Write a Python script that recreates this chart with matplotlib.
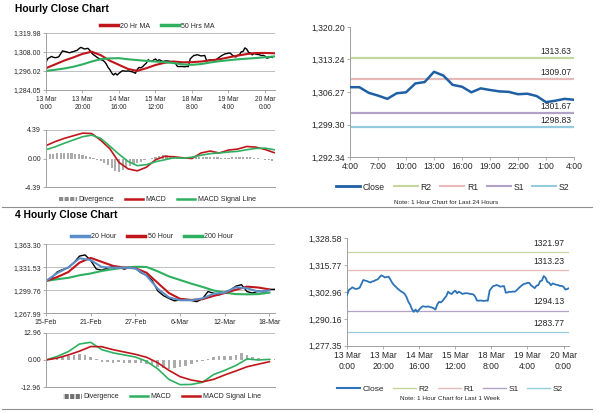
import numpy as np
import matplotlib
matplotlib.use('Agg')
import matplotlib.pyplot as plt
from matplotlib.lines import Line2D
from matplotlib.patches import Patch

plt.rcParams['font.family'] = ['Liberation Sans', 'DejaVu Sans']

# ---------------- data ----------------
# hourly close, 13 Mar 0:00 -> 20 Mar 4:00 (one value per hour)
hourly_close = [
    1301.5, 1303.9, 1304.5, 1305.2, 1304.7, 1304.4, 1304.6, 1305.0, 1306.8, 1308.7,
    1308.4, 1308.2, 1307.8, 1307.5, 1308.0, 1308.2, 1308.7, 1309.0, 1310.0, 1310.9,
    1310.5, 1309.9, 1310.1, 1310.3, 1309.0, 1307.4, 1306.3, 1305.5, 1304.6, 1303.9,
    1303.2, 1302.8, 1302.0, 1300.5, 1298.3, 1296.9, 1294.8, 1293.5, 1294.6, 1293.5,
    1294.6, 1295.5, 1296.2, 1296.0, 1295.9, 1296.1, 1295.8, 1295.6, 1295.2, 1294.6,
    1297.0, 1298.3, 1298.0, 1298.8, 1300.0, 1301.0, 1303.1, 1302.4, 1302.0, 1303.0,
    1303.6, 1302.4, 1303.1, 1302.6, 1302.0, 1302.3, 1302.4, 1302.3, 1302.1, 1302.0,
    1301.8, 1300.8, 1298.9, 1298.8, 1298.9, 1298.8, 1298.7, 1298.9, 1298.8, 1303.6,
    1304.8, 1305.8, 1306.0, 1306.3, 1305.9, 1305.5, 1305.7, 1305.8, 1302.6, 1302.8,
    1303.1, 1303.0, 1303.2, 1303.1, 1303.8, 1304.7, 1305.5, 1306.2, 1306.8, 1307.0,
    1307.3, 1307.3, 1306.1, 1305.5, 1304.8, 1306.0, 1306.2, 1308.1, 1308.4, 1310.6,
    1309.8, 1307.8, 1307.4, 1306.2, 1307.05, 1306.7, 1306.4, 1306.3, 1305.8, 1305.9,
    1305.4, 1304.1, 1304.4, 1304.8, 1304.6]
hourly_labels = ['13 Mar\n0:00', '13 Mar\n20:00', '14 Mar\n16:00', '15 Mar\n12:00',
                 '18 Mar\n8:00', '19 Mar\n4:00', '20 Mar\n0:00']
hourly_label_step = 20

# moving averages (every 5 hours)
ma_step = 5
ma20_hr = [1297.8, 1300.2, 1302.6, 1304.6, 1306.8, 1308.2, 1306.0, 1302.5, 1299.9, 1297.3,
           1296.1, 1297.8, 1299.8, 1301.2, 1302.0, 1301.5, 1301.6, 1302.0, 1302.7, 1303.4,
           1304.6, 1305.7, 1306.7, 1307.4, 1307.4, 1307.2]
ma50_hr = [1296.1, 1296.8, 1297.6, 1298.7, 1300.2, 1302.0, 1303.5, 1304.0, 1304.1, 1303.4,
           1302.9, 1302.4, 1302.0, 1301.6, 1301.0, 1300.2, 1299.9, 1300.4, 1301.4, 1302.2,
           1302.8, 1303.4, 1303.8, 1304.2, 1304.7, 1305.2]
# hourly MACD (every 5 hours) and divergence (every 2 hours)
macd_hr = [1.98, 2.6, 3.1, 3.5, 3.9, 3.85, 2.8, 1.5, -0.6, -1.6, -1.9, -1.35, -0.2, 0.33,
           0.27, 0.1, 0.0, 0.85, 1.15, 0.85, 1.3, 1.45, 1.85, 1.75, 1.4, 0.9]
signal_hr = [1.35, 1.8, 2.35, 2.85, 3.35, 3.6, 3.1, 1.9, 0.65, -0.45, -1.1, -0.95, -0.5,
             -0.2, 0.1, 0.05, 0.2, 0.5, 0.75, 0.85, 1.0, 1.1, 1.35, 1.55, 1.6, 1.35]
div_step_hr = 2
div_hr = [0.7, 0.72, 0.75, 0.78, 0.8, 0.8, 0.8, 0.78, 0.75, 0.7, 0.6, 0.45, 0.3, 0.05, -0.2,
          -0.45, -0.7, -1.05, -1.45, -1.85, -2.1, -1.8, -1.5, -1.1, -0.8, -0.65, -0.55, -0.3,
          -0.1, 0.15, 0.3, 0.45, 0.5, 0.5, 0.45, 0.38, 0.25, 0.15, -0.05, -0.1, 0.05, 0.2,
          0.3, 0.3, 0.3, 0.3, 0.28, 0.2, 0.12, 0.1, 0.15, 0.2, 0.25, 0.25, 0.22, 0.2, 0.2,
          0.15, 0.05, 0.0, -0.2, -0.3, -0.35]

# last 24 hours
day_labels = ['4:00', '7:00', '10:00', '13:00', '16:00', '19:00', '22:00', '1:00', '4:00']
day_close = hourly_close[-25:]
day_levels = {'R2': 1313.63, 'R1': 1309.07, 'S1': 1301.67, 'S2': 1298.83}
week_levels = {'R2': 1321.97, 'R1': 1313.23, 'S1': 1294.13, 'S2': 1283.77}

# 4-hourly chart (bars of 4 hours)
fh_labels = ['15-Feb', '21-Feb', '27-Feb', '6-Mar', '12-Mar', '18-Mar']
fh_label_step = 24
fh_close_step = 3
fh_close = [1312.7, 1317.0, 1325.0, 1328.5, 1331.0, 1338.0, 1347.0, 1348.6, 1341.0, 1329.2,
            1327.5, 1330.5, 1332.5, 1331.5, 1329.0, 1331.1, 1330.2, 1324.0, 1320.5, 1313.5,
            1299.0, 1292.5, 1288.5, 1285.2, 1286.4, 1287.0, 1285.8, 1284.1, 1288.0, 1298.0,
            1295.8, 1293.5, 1297.0, 1300.2, 1305.5, 1307.5, 1297.9, 1296.0, 1298.5, 1297.5,
            1301.0, 1301.1]
fh_ma_step = 6
fh_ma20 = [1312.7, 1323.5, 1331.5, 1344.0, 1341.5, 1331.8, 1331.0, 1331.0, 1330.0, 1320.0,
           1302.0, 1290.0, 1286.0, 1286.0, 1288.5, 1295.0, 1296.5, 1304.0, 1302.5, 1298.0,
           1299.5]
fh_ma50 = [1312.7, 1318.0, 1325.0, 1338.0, 1344.5, 1339.0, 1333.5, 1331.2, 1330.3, 1324.0,
           1310.0, 1296.0, 1288.0, 1286.4, 1287.5, 1292.0, 1296.0, 1300.5, 1304.8, 1303.6,
           1301.0]
fh_ma200 = [1312.7, 1315.0, 1317.0, 1320.5, 1323.0, 1326.5, 1329.0, 1331.0, 1332.3, 1332.0,
            1326.0, 1319.0, 1314.0, 1309.0, 1304.5, 1299.5, 1296.5, 1294.5, 1294.2, 1294.5,
            1296.5]
fh_macd = [0.0, 1.7, 4.0, 7.6, 8.4, 4.9, 3.4, 2.4, 1.4, -0.6, -4.2, -9.2, -11.7, -11.6,
           -10.6, -6.9, -4.9, -2.6, 0.5, 0.0, 0.3]
fh_signal = [0.0, 0.9, 2.4, 4.2, 6.4, 6.3, 4.9, 3.8, 2.7, 1.3, -1.3, -4.9, -7.9, -9.5,
             -10.4, -9.2, -7.1, -5.2, -3.2, -2.0, -0.8]
fh_div = [0.2, 0.5, 0.8, 1.2, 1.7, 2.2, 2.8, 2.5, 1.5, 0.3, -0.8, -1.1, -1.2, -1.1, -1.2,
          -1.3, -1.4, -1.6, -2.0, -2.6, -3.2, -3.8, -4.1, -3.9, -3.5, -2.8, -2.0, -1.0,
          -0.3, 0.6, 1.5, 2.0, 2.1, 2.1, 2.3, 3.2, 2.5, 1.5, 0.8, 0.5, 0.4, 0.5]

# axis ticks
hr_yticks = [1284.05, 1296.02, 1308.00, 1319.98]
hr_macd_ticks = [-4.39, 0.00, 4.39]
day_yticks = [1292.34, 1299.30, 1306.27, 1313.24, 1320.20]
week_yticks = [1277.35, 1290.16, 1302.96, 1315.77, 1328.58]
fh_yticks = [1267.99, 1299.76, 1331.53, 1363.30]
fh_macd_ticks = [-12.96, 0.00, 12.96]

# ---------------- colours ----------------
RED = '#c0151b'
GREEN = '#2eb060'
BLUE = '#5b8ec6'
GREY = '#ababab'
AX = '#a0a0a0'
TXT = '#262626'
LEVEL_COL = {'R2': '#c3d69b', 'R1': '#e6b9b8', 'S1': '#b3a2c7', 'S2': '#93cddd'}
CLOSE_COL = '#1f5fa3'

W, H = 600, 413
fig = plt.figure(figsize=(6, 4.13), dpi=100)
fig.patch.set_facecolor('white')


def box(l, t, r, b):
    return [l / W, 1 - b / H, (r - l) / W, (b - t) / H]


def fy(y):
    return 1 - y / H


def style(ax, size=5):
    for s in ['top', 'right']:
        ax.spines[s].set_visible(False)
    for s in ['left', 'bottom']:
        ax.spines[s].set_color(AX)
        ax.spines[s].set_linewidth(0.7)
    ax.tick_params(colors=AX, labelcolor=TXT, length=2, width=0.6, labelsize=size, pad=1.5)


def fmt(v):
    return f"{v:,.2f}"


def legend(handles, labels, cx, cy, size=5, hl=2.6, cs=1.6):
    fig.legend(handles, labels, loc='center', bbox_to_anchor=(cx / W, fy(cy)), ncol=len(labels),
               frameon=False, fontsize=size, handlelength=hl, columnspacing=cs,
               handletextpad=0.3, labelcolor=TXT, borderaxespad=0)


# ---------------- titles & separators ----------------
fig.text(15 / W, fy(9), 'Hourly Close Chart', fontsize=7.4, fontweight='bold', va='center')
fig.text(15 / W, fy(215), '4 Hourly Close Chart', fontsize=7.4, fontweight='bold', va='center')
for yy in (207, 409):
    fig.add_artist(Line2D([2 / W, 592 / W], [fy(yy), fy(yy)], color='#909090', lw=0.8))

# ---------------- hourly price ----------------
ax = fig.add_axes(box(46, 33, 275, 90))
style(ax)
xh = np.arange(len(hourly_close))
ax.plot(xh, hourly_close, color='black', lw=1.0)
xm = np.arange(len(ma20_hr)) * ma_step
ax.plot(xm, ma20_hr, color=RED, lw=1.5)
ax.plot(xm, ma50_hr, color=GREEN, lw=1.5)
ax.set_ylim(hr_yticks[0], hr_yticks[-1])
ax.set_yticks(hr_yticks, [fmt(v) for v in hr_yticks])
for v in hr_yticks[1:]:
    ax.axhline(v, color='#b4b4b4', lw=0.6, zorder=0)
ax.set_xlim(0, 125.5)
ax.set_xticks(np.arange(len(hourly_labels)) * hourly_label_step, hourly_labels)
ax.tick_params(axis='x', pad=2, labelsize=4.8)
legend([Line2D([], [], color=RED, lw=2.5), Line2D([], [], color=GREEN, lw=2.5)],
       ['20 Hr MA', '50 Hrs MA'], 157, 26)

# ---------------- hourly MACD ----------------
ax = fig.add_axes(box(46, 130, 275, 187))
style(ax)
xd = np.arange(len(div_hr)) * div_step_hr
ax.bar(xd, div_hr, width=1.2, color=GREY, lw=0)
ax.plot(xm, macd_hr, color=RED, lw=1.2)
ax.plot(xm, signal_hr, color=GREEN, lw=1.2)
ax.set_ylim(hr_macd_ticks[0], hr_macd_ticks[-1])
ax.set_yticks(hr_macd_ticks, [f"{v:.2f}" for v in hr_macd_ticks])
ax.axhline(hr_macd_ticks[-1], color='#b4b4b4', lw=0.6)
ax.set_xlim(0, 125.5)
ax.set_xticks([])
legend([Patch(facecolor='#8c8c8c', edgecolor='white', hatch='|||', lw=0),
        Line2D([], [], color=RED, lw=1.8), Line2D([], [], color=GREEN, lw=1.8)],
       ['Divergence', 'MACD', 'MACD Signal Line'], 157, 200)

# ---------------- last 24 hours ----------------
ax = fig.add_axes(box(350, 27, 574, 157))
style(ax, size=6.2)
xday = np.arange(len(day_close))
ax.plot(xday, day_close, color=CLOSE_COL, lw=1.8, zorder=3)
for k, v in day_levels.items():
    ax.axhline(v, color=LEVEL_COL[k], lw=1.6, zorder=2)
    ax.annotate(f"{v:.2f}", xy=(1, v), xycoords=('axes fraction', 'data'), xytext=(-2, 1.5),
                textcoords='offset points', ha='right', va='bottom', fontsize=6.2, color=TXT)
ax.set_ylim(day_yticks[0], day_yticks[-1])
ax.set_yticks(day_yticks, [fmt(v) for v in day_yticks])
ax.set_xlim(0, len(day_close) - 1)
ax.set_xticks(np.arange(len(day_labels)) * 3, day_labels)
leg_h = [Line2D([], [], color=CLOSE_COL, lw=2)] + [Line2D([], [], color=LEVEL_COL[k], lw=1.5)
                                                   for k in day_levels]
legend(leg_h, ['Close'] + list(day_levels), 453, 187, size=6.2, hl=2.8, cs=1.0)
fig.text(446 / W, fy(202), 'Note: 1 Hour Chart for Last 24 Hours', fontsize=4.6,
         ha='center', va='center', color=TXT)

# ---------------- 4 hourly price ----------------
ax = fig.add_axes(box(46, 244.3, 275, 313.3))
style(ax)
xc = np.arange(len(fh_close)) * fh_close_step
ax.plot(xc, fh_close, color='black', lw=1.0)
xf = np.arange(len(fh_ma20)) * fh_ma_step
ax.plot(xf, fh_ma200, color=GREEN, lw=1.5)
ax.plot(xf, fh_ma50, color=RED, lw=1.5)
ax.plot(xf, fh_ma20, color=BLUE, lw=1.5)
ax.set_ylim(fh_yticks[0], fh_yticks[-1])
ax.set_yticks(fh_yticks, [fmt(v) for v in fh_yticks])
for v in fh_yticks[1:]:
    ax.axhline(v, color='#b4b4b4', lw=0.6, zorder=0)
ax.set_xlim(0, 123)
ax.set_xticks(np.arange(len(fh_labels)) * fh_label_step, fh_labels)
ax.tick_params(axis='x', pad=2, labelsize=5)
legend([Line2D([], [], color=BLUE, lw=2.5), Line2D([], [], color=RED, lw=2.5),
        Line2D([], [], color=GREEN, lw=2.5)], ['20 Hour', '50 Hour', '200 Hour'], 152, 237)

# ---------------- 4 hourly MACD ----------------
ax = fig.add_axes(box(46, 332.7, 275, 387.3))
style(ax)
xdf = np.arange(len(fh_div)) * fh_close_step
ax.bar(xdf, fh_div, width=1.4, color=GREY, lw=0)
ax.plot(xf, fh_macd, color=GREEN, lw=1.2)
ax.plot(xf, fh_signal, color=RED, lw=1.2)
ax.set_ylim(fh_macd_ticks[0], fh_macd_ticks[-1])
ax.set_yticks(fh_macd_ticks, [f"{v:.2f}" for v in fh_macd_ticks])
ax.axhline(fh_macd_ticks[-1], color='#b4b4b4', lw=0.6)
ax.set_xlim(0, 123)
ax.set_xticks([])
legend([Patch(facecolor='#707070', edgecolor='white', hatch='|||', lw=0),
        Line2D([], [], color=GREEN, lw=1.8), Line2D([], [], color=RED, lw=1.8)],
       ['Divergence', 'MACD', 'MACD Signal Line'], 162, 397)

# ---------------- last week ----------------
ax = fig.add_axes(box(347, 238.3, 569, 345.7))
style(ax, size=6.2)
ax.plot(xh, hourly_close, color='#2e73b8', lw=1.3, zorder=3)
for k, v in week_levels.items():
    ax.axhline(v, color=LEVEL_COL[k], lw=0.9, zorder=2)
    ax.annotate(f"{v:.2f}", xy=(1, v), xycoords=('axes fraction', 'data'), xytext=(-3, 3),
                textcoords='offset points', ha='right', va='bottom', fontsize=6.2, color=TXT)
ax.set_ylim(week_yticks[0], week_yticks[-1])
ax.set_yticks(week_yticks, [fmt(v) for v in week_yticks])
ax.set_xlim(0, 123)
ax.set_xticks(np.arange(len(hourly_labels)) * hourly_label_step, hourly_labels)
ax.tick_params(axis='x', labelsize=6.2, pad=2)
leg_h = [Line2D([], [], color='#2e73b8', lw=1.5)] + [Line2D([], [], color=LEVEL_COL[k], lw=1)
                                                     for k in week_levels]
legend(leg_h, ['Close'] + list(week_levels), 450, 389, size=6, hl=2.8, cs=1.0)
fig.text(450 / W, fy(398), 'Note: 1 Hour Chart for Last 1 Week', fontsize=4.6,
         ha='center', va='center', color=TXT)

fig.savefig('out.png', dpi=100, facecolor='white')
